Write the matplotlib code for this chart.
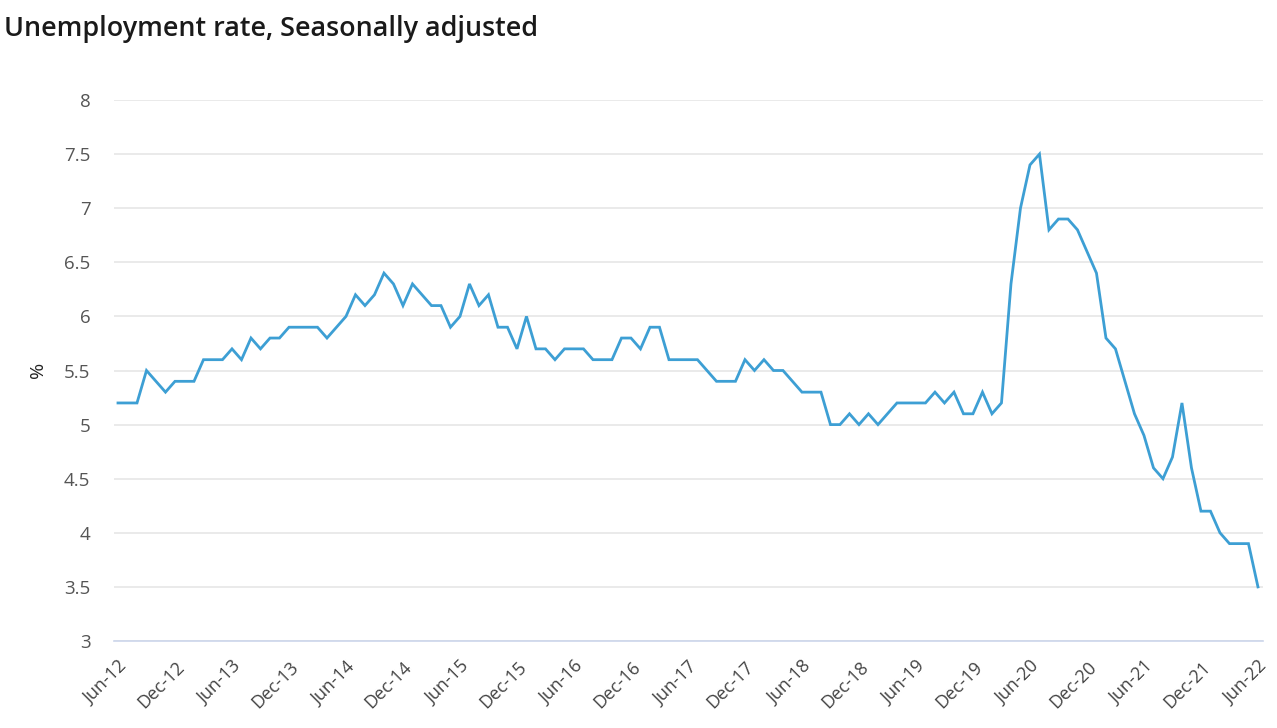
import matplotlib.pyplot as plt

# monthly, Jun-12 .. Jun-22
unemployment = [
    5.2, 5.2, 5.2, 5.5, 5.4, 5.3, 5.4, 5.4, 5.4, 5.6, 5.6, 5.6,
    5.7, 5.6, 5.8, 5.7, 5.8, 5.8, 5.9, 5.9, 5.9, 5.9, 5.8, 5.9,
    6.0, 6.2, 6.1, 6.2, 6.4, 6.3, 6.1, 6.3, 6.2, 6.1, 6.1, 5.9,
    6.0, 6.3, 6.1, 6.2, 5.9, 5.9, 5.7, 6.0, 5.7, 5.7, 5.6, 5.7,
    5.7, 5.7, 5.6, 5.6, 5.6, 5.8, 5.8, 5.7, 5.9, 5.9, 5.6, 5.6,
    5.6, 5.6, 5.5, 5.4, 5.4, 5.4, 5.6, 5.5, 5.6, 5.5, 5.5, 5.4,
    5.3, 5.3, 5.3, 5.0, 5.0, 5.1, 5.0, 5.1, 5.0, 5.1, 5.2, 5.2,
    5.2, 5.2, 5.3, 5.2, 5.3, 5.1, 5.1, 5.3, 5.1, 5.2, 6.3, 7.0,
    7.4, 7.5, 6.8, 6.9, 6.9, 6.8, 6.6, 6.4, 5.8, 5.7, 5.4, 5.1,
    4.9, 4.6, 4.5, 4.7, 5.2, 4.6, 4.2, 4.2, 4.0, 3.9, 3.9, 3.9,
    3.5,
]
tick_labels = ["Jun-12", "Dec-12", "Jun-13", "Dec-13", "Jun-14", "Dec-14",
               "Jun-15", "Dec-15", "Jun-16", "Dec-16", "Jun-17", "Dec-17",
               "Jun-18", "Dec-18", "Jun-19", "Dec-19", "Jun-20", "Dec-20",
               "Jun-21", "Dec-21", "Jun-22"]
y_ticks = [3, 3.5, 4, 4.5, 5, 5.5, 6, 6.5, 7, 7.5, 8]

plt.rcParams['font.family'] = ['Open Sans', 'DejaVu Sans']

fig = plt.figure(figsize=(12.77, 7.28), dpi=100)
ax = fig.add_axes([114 / 1277, 87 / 728, 1149 / 1277, 541 / 728])

x = list(range(len(unemployment)))
ax.plot(x, unemployment, color="#3d9fd4", linewidth=2.0, solid_joinstyle="miter", clip_on=False)

ax.set_xlim(-0.42, 120.53)
ax.set_ylim(3, 8)
ax.set_yticks(y_ticks)
ax.set_yticklabels([f"{v:g}" for v in y_ticks], color="#555555", fontsize=13.5)
ax.set_xticks(range(0, len(unemployment), 6))
ax.set_xticklabels(tick_labels, rotation=45, ha="right", rotation_mode="anchor",
                   color="#444444", fontsize=13)
ax.tick_params(axis="both", length=0)
ax.tick_params(axis="y", pad=17)
ax.tick_params(axis="x", pad=12)

ax.grid(axis="y", color="#e6e6e6", linewidth=1.2)
ax.set_axisbelow(True)
for side in ["top", "right", "left"]:
    ax.spines[side].set_visible(False)
ax.spines["bottom"].set_color("#ccd6eb")
ax.spines["bottom"].set_linewidth(1.2)

fig.text(38 / 1277, 1 - 370 / 728, "%", rotation=90, ha="center", va="center",
         fontsize=14, color="#222222")
fig.text(4 / 1277, 1 - 29 / 728, "Unemployment rate, Seasonally adjusted",
         ha="left", va="center", fontsize=19.4, fontweight="semibold", color="#1a1a1a")

fig.savefig("out.png", dpi=100)
